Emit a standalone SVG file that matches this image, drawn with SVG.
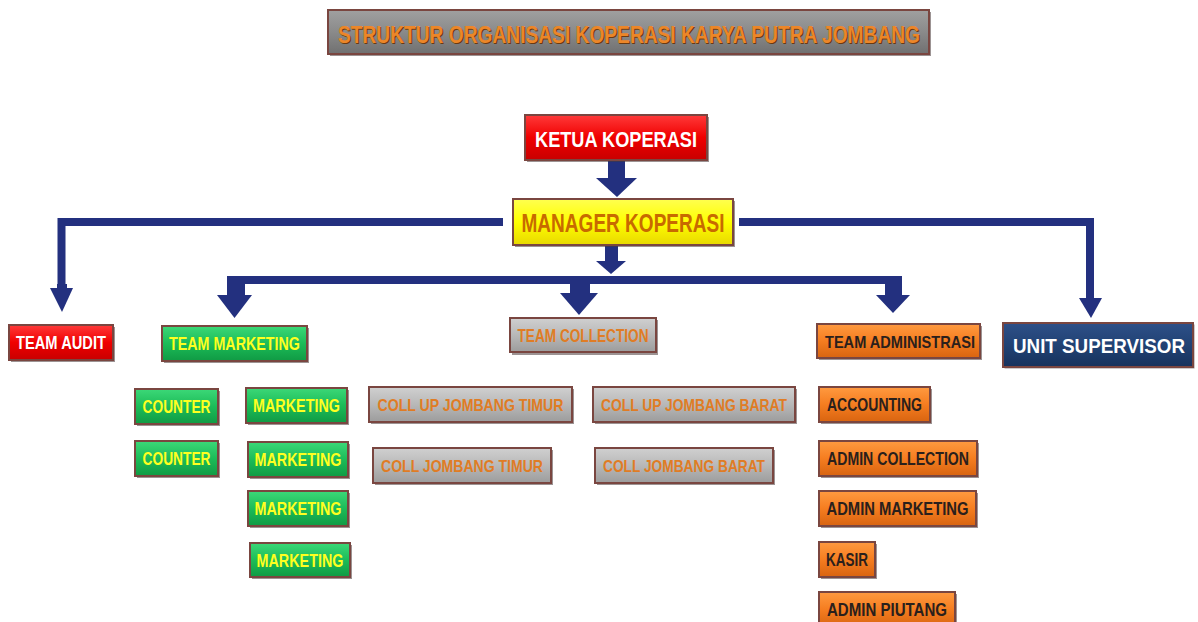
<svg xmlns="http://www.w3.org/2000/svg" width="1198" height="622" viewBox="0 0 1198 622">
<defs>
<linearGradient id="gRed" x1="0" y1="0" x2="0" y2="1"><stop offset="0" stop-color="#ff3a3a"/><stop offset="0.5" stop-color="#f00000"/><stop offset="1" stop-color="#c80000"/></linearGradient>
<linearGradient id="gYel" x1="0" y1="0" x2="0" y2="1"><stop offset="0" stop-color="#ffff50"/><stop offset="0.5" stop-color="#ffff00"/><stop offset="1" stop-color="#e8d800"/></linearGradient>
<linearGradient id="gGrn" x1="0" y1="0" x2="0" y2="1"><stop offset="0" stop-color="#3cd878"/><stop offset="0.5" stop-color="#1cbc58"/><stop offset="1" stop-color="#109a44"/></linearGradient>
<linearGradient id="gGry" x1="0" y1="0" x2="0" y2="1"><stop offset="0" stop-color="#d0d0d0"/><stop offset="0.5" stop-color="#b8b8b8"/><stop offset="1" stop-color="#9c9c9c"/></linearGradient>
<linearGradient id="gOrg" x1="0" y1="0" x2="0" y2="1"><stop offset="0" stop-color="#ff9a40"/><stop offset="0.5" stop-color="#f57d20"/><stop offset="1" stop-color="#d86410"/></linearGradient>
<linearGradient id="gNav" x1="0" y1="0" x2="0" y2="1"><stop offset="0" stop-color="#2e5088"/><stop offset="0.5" stop-color="#214274"/><stop offset="1" stop-color="#17325c"/></linearGradient>
<linearGradient id="gTit" x1="0" y1="0" x2="0" y2="1"><stop offset="0" stop-color="#a0a0a0"/><stop offset="0.5" stop-color="#8a8a8a"/><stop offset="1" stop-color="#707070"/></linearGradient>
</defs>
<style>
.box{stroke:#7a4640;stroke-width:2}
.sh{fill:#4a3a3a;opacity:0.55}
.t{font-family:"Liberation Sans",Arial,sans-serif;font-weight:bold;text-anchor:middle;font-size:18px}
.con path{fill:none;stroke:#23307f;stroke-width:8}
.con polygon,.con rect{fill:#23307f}
</style>
<rect width="1198" height="622" fill="#ffffff"/>

<g id="title">
<rect class="sh" x="330" y="12" width="601" height="44"/>
<rect class="box" x="328" y="10" width="601" height="44" fill="url(#gTit)" stroke="#b06060"/>
<text class="t" x="630" y="44" style="font-size:23px" fill="#6a3a10" textLength="582" lengthAdjust="spacingAndGlyphs">STRUKTUR ORGANISASI KOPERASI KARYA PUTRA JOMBANG</text>
<text class="t" x="629" y="43" style="font-size:23px" fill="#ec8628" textLength="582" lengthAdjust="spacingAndGlyphs">STRUKTUR ORGANISASI KOPERASI KARYA PUTRA JOMBANG</text>
</g>

<g id="connectors" class="con">
<rect x="608" y="160" width="17" height="19"/>
<polygon points="596,178 637,178 617,197"/>
<path d="M503,222 H61.5 V290"/>
<rect x="57" y="284" width="10" height="6"/>
<polygon points="50,288 73,288 62,312"/>
<path d="M739,222 H1090 V299"/>
<polygon points="1079,298 1102,298 1091,318"/>
<rect x="605" y="245" width="13" height="17"/>
<polygon points="596,261 626,261 611,274"/>
<path d="M227,280 H902"/>
<rect x="227" y="276" width="18" height="20"/>
<polygon points="217,295 252,295 234.5,318"/>
<rect x="570" y="284" width="20" height="10"/>
<polygon points="560,293 598,293 579,315"/>
<rect x="885" y="276" width="17" height="20"/>
<polygon points="876,295 910,295 893,313"/>
</g>

<g id="ketua">
<rect class="sh" x="527" y="117" width="182" height="45"/>
<rect class="box" x="525" y="115" width="182" height="45" fill="url(#gRed)"/>
<text class="t" x="616" y="147" style="font-size:22px" fill="#ffffff" textLength="162" lengthAdjust="spacingAndGlyphs">KETUA KOPERASI</text>
</g>

<g id="manager">
<rect class="sh" x="515" y="201" width="220" height="46"/>
<rect class="box" x="513" y="199" width="220" height="46" fill="url(#gYel)" stroke="#c07828"/>
<text class="t" x="623" y="232" style="font-size:26px" fill="#c86a00" textLength="203" lengthAdjust="spacingAndGlyphs">MANAGER KOPERASI</text>
</g>

<g id="team-audit">
<rect class="sh" x="11" y="327" width="104" height="35"/>
<rect class="box" x="9" y="325" width="104" height="35" fill="url(#gRed)"/>
<text class="t" x="61" y="349" fill="#ffffff" textLength="90" lengthAdjust="spacingAndGlyphs">TEAM AUDIT</text>
</g>

<g id="team-marketing">
<rect class="sh" x="164" y="328" width="145" height="35"/>
<rect class="box" x="162" y="326" width="145" height="35" fill="url(#gGrn)"/>
<text class="t" x="234.5" y="350" fill="#ffff20" textLength="131" lengthAdjust="spacingAndGlyphs">TEAM MARKETING</text>
</g>

<g id="team-collection">
<rect class="sh" x="512" y="320" width="146" height="35"/>
<rect class="box" x="510" y="318" width="146" height="34" fill="url(#gGry)" stroke="#9a5050"/>
<text class="t" x="583" y="341.5" fill="#e07c24" textLength="131" lengthAdjust="spacingAndGlyphs">TEAM COLLECTION</text>
</g>

<g id="team-administrasi">
<rect class="sh" x="819" y="326" width="163" height="34"/>
<rect class="box" x="817" y="324" width="163" height="34" fill="url(#gOrg)"/>
<text class="t" x="900" y="347.5" style="font-size:17px" fill="#2a201c" textLength="150" lengthAdjust="spacingAndGlyphs">TEAM ADMINISTRASI</text>
</g>

<g id="unit-supervisor">
<rect class="sh" x="1004.5" y="324.5" width="190" height="44"/>
<rect class="box" x="1003" y="323" width="190" height="44" fill="url(#gNav)" stroke="#8a4a50"/>
<text class="t" x="1099" y="352.5" style="font-size:20px" fill="#ffffff" textLength="172" lengthAdjust="spacingAndGlyphs">UNIT SUPERVISOR</text>
</g>

<g id="counter-1">
<rect class="sh" x="137" y="391" width="83" height="35"/>
<rect class="box" x="135" y="389" width="83" height="35" fill="url(#gGrn)"/>
<text class="t" x="176.5" y="413" fill="#ffff20" textLength="68" lengthAdjust="spacingAndGlyphs">COUNTER</text>
</g>
<g id="counter-2">
<rect class="sh" x="137" y="443" width="83" height="35"/>
<rect class="box" x="135" y="441" width="83" height="35" fill="url(#gGrn)"/>
<text class="t" x="176.5" y="465" fill="#ffff20" textLength="68" lengthAdjust="spacingAndGlyphs">COUNTER</text>
</g>
<g id="marketing-1">
<rect class="sh" x="248" y="390" width="101" height="35"/>
<rect class="box" x="246" y="388" width="101" height="35" fill="url(#gGrn)"/>
<text class="t" x="296.5" y="412" fill="#ffff20" textLength="87" lengthAdjust="spacingAndGlyphs">MARKETING</text>
</g>
<g id="marketing-2">
<rect class="sh" x="250" y="444" width="100" height="35"/>
<rect class="box" x="248" y="442" width="100" height="35" fill="url(#gGrn)"/>
<text class="t" x="298" y="466" fill="#ffff20" textLength="87" lengthAdjust="spacingAndGlyphs">MARKETING</text>
</g>
<g id="marketing-3">
<rect class="sh" x="250" y="493" width="100" height="35"/>
<rect class="box" x="248" y="491" width="100" height="35" fill="url(#gGrn)"/>
<text class="t" x="298" y="515" fill="#ffff20" textLength="87" lengthAdjust="spacingAndGlyphs">MARKETING</text>
</g>
<g id="marketing-4">
<rect class="sh" x="252" y="545" width="100" height="34"/>
<rect class="box" x="250" y="543" width="100" height="34" fill="url(#gGrn)"/>
<text class="t" x="300" y="566.5" fill="#ffff20" textLength="87" lengthAdjust="spacingAndGlyphs">MARKETING</text>
</g>

<g id="coll-up-timur">
<rect class="sh" x="371" y="389" width="203" height="35"/>
<rect class="box" x="369" y="387" width="203" height="35" fill="url(#gGry)" stroke="#9a5050"/>
<text class="t" x="470.5" y="411" style="font-size:17px" fill="#e07c24" textLength="186" lengthAdjust="spacingAndGlyphs">COLL UP JOMBANG TIMUR</text>
</g>
<g id="coll-up-barat">
<rect class="sh" x="595" y="389" width="202" height="35"/>
<rect class="box" x="593" y="387" width="202" height="35" fill="url(#gGry)" stroke="#9a5050"/>
<text class="t" x="694" y="411" style="font-size:17px" fill="#e07c24" textLength="186" lengthAdjust="spacingAndGlyphs">COLL UP JOMBANG BARAT</text>
</g>
<g id="coll-timur">
<rect class="sh" x="375" y="450" width="178" height="35"/>
<rect class="box" x="373" y="448" width="178" height="35" fill="url(#gGry)" stroke="#9a5050"/>
<text class="t" x="462" y="472" style="font-size:17px" fill="#e07c24" textLength="162" lengthAdjust="spacingAndGlyphs">COLL JOMBANG TIMUR</text>
</g>
<g id="coll-barat">
<rect class="sh" x="597" y="450" width="178" height="35"/>
<rect class="box" x="595" y="448" width="178" height="35" fill="url(#gGry)" stroke="#9a5050"/>
<text class="t" x="684" y="472" style="font-size:17px" fill="#e07c24" textLength="162" lengthAdjust="spacingAndGlyphs">COLL JOMBANG BARAT</text>
</g>

<g id="accounting">
<rect class="sh" x="821" y="389" width="111" height="35"/>
<rect class="box" x="819" y="387" width="111" height="35" fill="url(#gOrg)"/>
<text class="t" x="874.5" y="411" fill="#2a201c" textLength="95" lengthAdjust="spacingAndGlyphs">ACCOUNTING</text>
</g>
<g id="admin-collection">
<rect class="sh" x="821" y="443" width="158" height="35"/>
<rect class="box" x="819" y="441" width="158" height="35" fill="url(#gOrg)"/>
<text class="t" x="898" y="465" fill="#2a201c" textLength="142" lengthAdjust="spacingAndGlyphs">ADMIN COLLECTION</text>
</g>
<g id="admin-marketing">
<rect class="sh" x="821" y="493" width="157" height="35"/>
<rect class="box" x="819" y="491" width="157" height="35" fill="url(#gOrg)"/>
<text class="t" x="897.5" y="515" fill="#2a201c" textLength="142" lengthAdjust="spacingAndGlyphs">ADMIN MARKETING</text>
</g>
<g id="kasir">
<rect class="sh" x="821" y="544" width="56" height="35"/>
<rect class="box" x="819" y="542" width="56" height="35" fill="url(#gOrg)"/>
<text class="t" x="847" y="566" fill="#2a201c" textLength="42" lengthAdjust="spacingAndGlyphs">KASIR</text>
</g>
<g id="admin-piutang">
<rect class="sh" x="821" y="594" width="136" height="35"/>
<rect class="box" x="819" y="592" width="136" height="35" fill="url(#gOrg)"/>
<text class="t" x="887" y="616" fill="#2a201c" textLength="120" lengthAdjust="spacingAndGlyphs">ADMIN PIUTANG</text>
</g>
</svg>
